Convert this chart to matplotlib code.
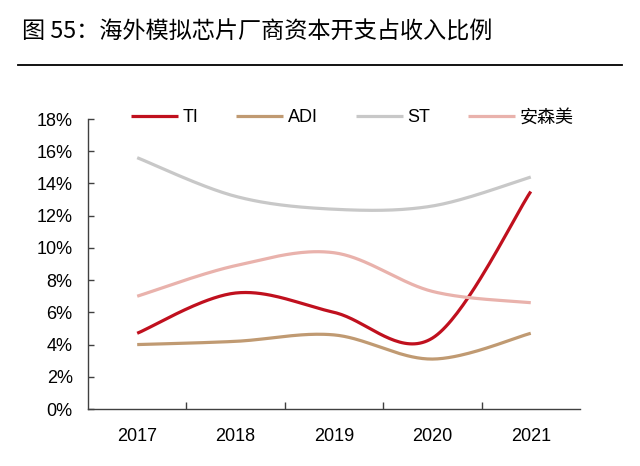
import numpy as np
import matplotlib
matplotlib.use("Agg")
import matplotlib.pyplot as plt
from matplotlib.ticker import FixedLocator, FuncFormatter

plt.rcParams['font.family'] = ['Liberation Sans', 'Noto Sans CJK SC']

years = ['2017', '2018', '2019', '2020', '2021']
ti = [4.7, 7.2, 6.0, 4.4, 13.5]
adi = [4.0, 4.2, 4.6, 3.1, 4.7]
st = [15.6, 13.2, 12.4, 12.6, 14.4]
onsemi = [7.0, 8.9, 9.7, 7.3, 6.6]

series = [('TI', ti, '#C0101E'),
          ('ADI', adi, '#C09A72'),
          ('ST', st, '#C8C8C8'),
          ('安森美', onsemi, '#E9B2AC')]


def smooth(xs, ys, n=40):
    # Excel-style smoothed line (Catmull-Rom as Bezier segments)
    p = np.column_stack([xs, ys]).astype(float)
    p = np.vstack([p[0], p, p[-1]])
    out = []
    t = np.linspace(0, 1, n)[:, None]
    for i in range(1, len(p) - 2):
        p0, p1, p2, p3 = p[i - 1], p[i], p[i + 1], p[i + 2]
        c1 = p1 + (p2 - p0) / 6
        c2 = p2 - (p3 - p1) / 6
        seg = ((1 - t) ** 3) * p1 + 3 * ((1 - t) ** 2) * t * c1 \
            + 3 * (1 - t) * t ** 2 * c2 + t ** 3 * p2
        out.append(seg if i == 1 else seg[1:])
    out = np.vstack(out)
    return out[:, 0], out[:, 1]


fig = plt.figure(figsize=(6.4, 4.66), dpi=100)
ax = fig.add_axes([0.1375, 0.1223, 0.7687, 0.6223])

x = np.arange(len(years))
for name, vals, color in series:
    sx, sy = smooth(x, vals)
    ax.plot(sx, sy, color=color, lw=2.3, label=name, solid_capstyle='butt')

ax.set_xlim(-0.5, len(years) - 0.5)
ax.set_ylim(0, 18)
ax.set_yticks(np.arange(0, 19, 2))
ax.yaxis.set_major_formatter(FuncFormatter(lambda v, _: f'{v:.0f}%'))
ax.set_xticks(x)
ax.set_xticklabels(years)
ax.xaxis.set_minor_locator(FixedLocator(x[:-1] + 0.5))

for s in ['top', 'right']:
    ax.spines[s].set_visible(False)
for s in ['left', 'bottom']:
    ax.spines[s].set_color('#404040')
    ax.spines[s].set_linewidth(1.0)

ax.tick_params(axis='y', direction='in', length=4, width=1, color='#404040',
               labelsize=13, pad=11)
ax.tick_params(axis='x', which='major', length=0, labelsize=13, pad=14)
ax.tick_params(axis='x', which='minor', direction='in', length=5, width=1,
               color='#404040')

leg = fig.legend(loc='center left', bbox_to_anchor=(131 / 640, 1 - 117.7 / 466),
                 ncol=4, frameon=False, fontsize=13, handlelength=2.6,
                 handletextpad=0.25, columnspacing=2.1, borderpad=0,
                 borderaxespad=0)

fig.text(22 / 640, 1 - 32 / 466, '图 55：海外模拟芯片厂商资本开支占收入比例',
         fontsize=16.7, va='center', ha='left',
         family=['Noto Sans CJK SC', 'DejaVu Sans'])
fig.add_artist(plt.Line2D([18 / 640, 622 / 640], [1 - 65 / 466, 1 - 65 / 466],
                          color='black', lw=1.3, transform=fig.transFigure))

fig.savefig('out.png', dpi=100)
